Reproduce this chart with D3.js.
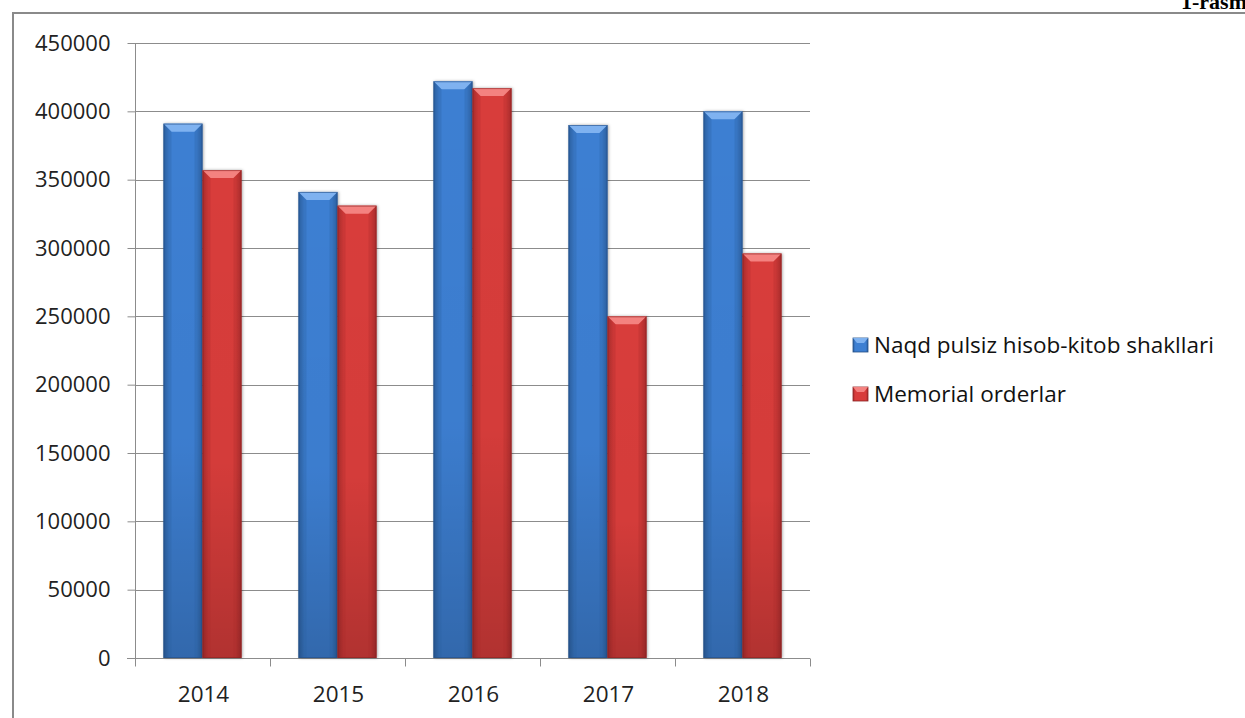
<!DOCTYPE html>
<html><head><meta charset="utf-8">
<script src="https://cdn.jsdelivr.net/npm/d3@7"></script>
<style>body{margin:0;background:#fff;}svg{display:block;}</style>
</head><body>
<svg id="chart" width="1245" height="718"></svg>
<script>
const categories = ["2014","2015","2016","2017","2018"];
const seriesNames = ["Naqd pulsiz hisob-kitob shakllari","Memorial orderlar"];
const naqd = [391000, 341000, 422000, 390000, 400000];
const memorial = [357000, 331000, 417000, 250000, 296000];
const yTicks = [0,50000,100000,150000,200000,250000,300000,350000,400000,450000];

const svg = d3.select("#chart");
const font = "'Open Sans', 'Noto Sans', sans-serif";

// frame
svg.append("line").attr("x1",12).attr("x2",1245).attr("y1",13).attr("y2",13).attr("stroke","#8a8a8a").attr("stroke-width",2);
svg.append("line").attr("x1",13).attr("x2",13).attr("y1",12).attr("y2",718).attr("stroke","#8a8a8a").attr("stroke-width",2);
svg.append("text").attr("x",1181).attr("y",9).attr("font-family","'Liberation Serif', serif").attr("font-weight","bold").attr("font-size",22).attr("fill","#000").text("1-rasm");

const x0 = d3.scaleBand().domain(categories).range([135,810]).paddingInner(0).paddingOuter(0);
const x1 = d3.scaleBand().domain([0,1]).range([0, x0.bandwidth()]).paddingOuter(0.73).paddingInner(0);
const y = d3.scaleLinear().domain([0,450000]).range([658,43]);

// gridlines
svg.append("g").selectAll("line").data(yTicks.filter(d=>d>0)).join("line")
  .attr("x1",135).attr("x2",810).attr("y1",d=>Math.round(y(d))+0.5).attr("y2",d=>Math.round(y(d))+0.5)
  .attr("stroke","#8c8c8c").attr("stroke-width",1);

// y axis
const yAxis = d3.axisLeft(y).tickValues(yTicks).tickSize(8).tickPadding(17).tickFormat(d3.format("d"));
const gy = svg.append("g").attr("transform","translate(135.5,0)").call(yAxis);
gy.select(".domain").attr("stroke","#8c8c8c").attr("d","M0,"+y(450000)+"V"+y(0));
gy.selectAll(".tick line").attr("stroke","#8c8c8c");
gy.selectAll(".tick text").attr("font-family",font).attr("font-size",22).attr("fill","#222");

// x axis
const gx = svg.append("g").attr("transform","translate(0,658.5)");
gx.append("line").attr("x1",127).attr("x2",810).attr("stroke","#8c8c8c");
const bounds = categories.map(c=>x0(c)).concat([x0(categories[categories.length-1])+x0.bandwidth()]);
gx.selectAll("line.t").data(bounds).join("line").attr("class","t")
  .attr("x1",d=>Math.round(d)+0.5).attr("x2",d=>Math.round(d)+0.5).attr("y1",0).attr("y2",8).attr("stroke","#8c8c8c");
gx.selectAll("text").data(categories).join("text")
  .attr("x",d=>x0(d)+x0.bandwidth()/2+1).attr("y",43)
  .attr("text-anchor","middle").attr("font-family",font).attr("font-size",22.5).attr("fill","#222").text(d=>d);

// gradients
const defs = svg.append("defs");
const pal = [
  {light:"#5b98e6", mid:"#3d7fd2", dark:"#2b5f9f", edge:"#244f86", top:"#7fb2f0"},
  {light:"#ec5a58", mid:"#d83c3b", dark:"#a82c2c", edge:"#8a2222", top:"#f48280"}
];
pal.forEach((p,i)=>{
  const g = defs.append("linearGradient").attr("id","h"+i).attr("x1",0).attr("x2",1).attr("y1",0).attr("y2",0);
  g.append("stop").attr("offset","0").attr("stop-color",p.dark);
  g.append("stop").attr("offset","0.15").attr("stop-color",p.mid);
  g.append("stop").attr("offset","0.5").attr("stop-color",p.mid);
  g.append("stop").attr("offset","0.85").attr("stop-color",p.mid);
  g.append("stop").attr("offset","1").attr("stop-color",p.dark);
  const v = defs.append("linearGradient").attr("id","v"+i).attr("x1",0).attr("x2",0).attr("y1",0).attr("y2",1);
  v.append("stop").attr("offset","0").attr("stop-color","#000").attr("stop-opacity",0);
  v.append("stop").attr("offset","0.6").attr("stop-color","#000").attr("stop-opacity",0.02);
  v.append("stop").attr("offset","1").attr("stop-color","#000").attr("stop-opacity",0.18);
});
const f = defs.append("filter").attr("id","sh").attr("x","-20%").attr("y","-5%").attr("width","140%").attr("height","110%");
f.append("feDropShadow").attr("dx",1).attr("dy",0).attr("stdDeviation",1.5).attr("flood-color","#000").attr("flood-opacity",0.35);

const series = [naqd, memorial];
series.forEach((vals,si)=>{
  const g = svg.append("g");
  const bars = g.selectAll("g").data(categories.map((c,i)=>({c, v:vals[i]}))).join("g");
  bars.each(function(d){
    const bx = x0(d.c) + x1(si), bw = x1.bandwidth(), by = y(d.v), bh = y(0)-y(d.v);
    const s = d3.select(this);
    s.append("rect").attr("x",bx).attr("y",by).attr("width",bw).attr("height",bh).attr("fill","url(#h"+si+")").attr("filter","url(#sh)");
    s.append("rect").attr("x",bx).attr("y",by).attr("width",bw).attr("height",bh).attr("fill","url(#v"+si+")");
    const b = 8;
    s.append("path").attr("d",`M${bx},${by}L${bx+bw},${by}L${bx+bw-b},${by+b}L${bx+b},${by+b}Z`).attr("fill",pal[si].top);
    s.append("path").attr("d",`M${bx},${by}L${bx+b},${by+b}L${bx+b},${by+bh}L${bx},${by+bh}Z`).attr("fill",pal[si].dark).attr("opacity",0.3);
    s.append("path").attr("d",`M${bx+bw},${by}L${bx+bw-b},${by+b}L${bx+bw-b},${by+bh}L${bx+bw},${by+bh}Z`).attr("fill",pal[si].dark).attr("opacity",0.3);
    s.append("rect").attr("x",bx+0.5).attr("y",by+0.5).attr("width",bw-1).attr("height",bh-1).attr("fill","none").attr("stroke",pal[si].edge).attr("stroke-opacity",0.6);
  });
});

// legend
const lg = svg.append("g").selectAll("g").data(seriesNames).join("g")
  .attr("transform",(d,i)=>`translate(853,${338+i*49})`);
lg.append("rect").attr("width",15).attr("height",14).attr("fill",(d,i)=>"url(#h"+i+")").attr("stroke",(d,i)=>pal[i].edge).attr("stroke-width",0.8);
lg.append("path").attr("d","M0,0L15,0L11,5L4,5Z").attr("fill",(d,i)=>pal[i].top);
lg.append("text").attr("x",21).attr("y",15).attr("font-family",font).attr("font-size",22.5).attr("fill","#111").text(d=>d);
</script>
</body></html>
